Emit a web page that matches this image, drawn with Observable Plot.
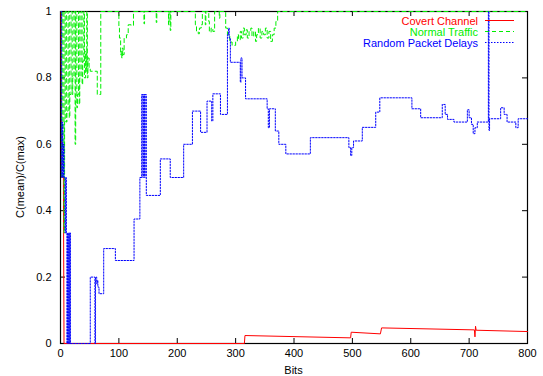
<!DOCTYPE html>
<html>
<head>
<meta charset="utf-8">
<script src="https://cdn.jsdelivr.net/npm/d3@7"></script>
<script src="https://cdn.jsdelivr.net/npm/@observablehq/plot@0.6"></script>
<style>
  html, body { margin: 0; padding: 0; background: white; }
</style>
</head>
<body>
<div id="chart"></div>
<script>
// ---- data ----
const xTicks = [0, 100, 200, 300, 400, 500, 600, 700, 800];
const yTicks = [0, 0.2, 0.4, 0.6, 0.8, 1];
const seriesNames = ["Covert Channel", "Normal Traffic", "Random Packet Delays"];

const redBits   = [1, 2, 5, 6, 315, 316, 497, 498, 548, 550, 709, 710, 711, 712, 800];
const redValues = [1, 0.5, 0.5, 0, 0, 0.024, 0.017, 0.034, 0.029, 0.047, 0.041, 0.02, 0.052, 0.04, 0.036];

const greenBits = [1,2,4,6,7,8,10,11,13,15,16,18,20,21,23,25,26,28,29,31,32,33,35,37,38,40,41,43,44,45,46,47,49,51,63,69,
  100,101,103,104,105,106,107,109,113,116,121,125,
  143,144,164,165,185,186,188,189,231,233,236,238,241,243,248,249,254,255,258,261,264,272,273,
  283,286,290,294,300,303,305,308,310,313,315,318,320,323,326,328,331,334,336,339,342,345,348,351,354,357,360,363,366,369,372,800];
const greenValues = [1,0.5,1,0.333,0.667,1,0.667,0.7,1,0.68,0.75,1,0.75,0.8,1,0.6,1,0.71,0.75,1,0.72,0.8,1,0.78,0.85,1,0.8,0.88,0.82,1,0.8,0.86,0.83,0.82,0.75,1,
  0.95,0.92,0.87,0.88,0.86,0.89,0.87,0.92,0.93,0.96,0.958,1,
  0.963,1,0.967,1,0.96,1,0.943,1,0.96,0.94,0.933,0.95,0.96,1,0.96,1,0.97,0.938,0.95,0.94,1,0.98,1,
  0.95,0.93,0.908,0.898,0.91,0.93,0.915,0.94,0.92,0.95,0.93,0.945,0.92,0.94,0.95,0.925,0.94,0.91,0.93,0.95,0.92,0.94,0.93,0.95,0.92,0.94,0.91,0.93,0.95,0.97,1,1];

const blueBits = [1,2,3,4,5,6,8,9,10,11,12,13,14,15,16,17,51,59,60,62,63,64,66,74,94,126,136,139,141,142,144,145,147,
  171,188,211,226,240,251,259,261,274,286,288,289,291,308,309,311,317,354,356,358,368,374,386,428,494,497,499,502,517,540,547,
  602,617,654,659,663,674,697,700,704,707,710,714,733,734,735,754,760,765,780,784,800];
const blueValues = [1,0.5,0.667,0.5,0.6,0.5,0.333,0.5,0.333,0,0.333,0,0.333,0,0.333,0,0.2,0,0.2,0.18,0.19,0.17,0.15,0.286,0.25,0.375,0.5,0.75,0.5,0.75,0.5,0.75,0.446,
  0.556,0.5,0.6,0.7,0.636,0.73,0.67,0.752,0.69,0.93,0.95,0.92,0.847,0.787,0.86,0.8,0.737,0.707,0.65,0.707,0.64,0.6,0.571,0.62,0.59,0.566,0.59,0.61,0.651,0.697,0.74,
  0.707,0.68,0.72,0.69,0.675,0.667,0.704,0.68,0.66,0.632,0.65,0.667,1,0.642,0.677,0.71,0.69,0.667,0.65,0.677,0.677];

const colors = ["#ff0000", "#00ee00", "#0000ff"];

// ---- build tables ----
const red = redBits.map((b, i) => ({bits: b, v: redValues[i]}));
const green = greenBits.map((b, i) => ({bits: b, v: greenValues[i]}));
const blue = blueBits.map((b, i) => ({bits: b, v: blueValues[i]}));

const W = 543, H = 376;
const mL = 60, mR = 16, mT = 11, mB = 33;
const fw = W - mL - mR, fh = H - mT - mB;
const tick = 5;

const svg = Plot.plot({
  width: W, height: H,
  marginLeft: mL, marginRight: mR, marginTop: mT, marginBottom: mB,
  x: {domain: [0, 800]},
  y: {domain: [0, 1]},
  style: {fontFamily: "'Liberation Sans', Arial, sans-serif", fontSize: "11px", color: "black", background: "white", overflow: "visible"},
  marks: [
    Plot.axisX({ticks: xTicks, tickSize: 0, tickPadding: 6, label: null, tickFormat: d => String(d)}),
    Plot.axisY({ticks: yTicks, tickSize: 0, tickPadding: 9, label: null, tickFormat: d => String(d)}),
    Plot.tickX(xTicks, {x: d => d, insetTop: fh - tick, stroke: "black"}),
    Plot.tickX(xTicks, {x: d => d, insetBottom: fh - tick, stroke: "black"}),
    Plot.tickY(yTicks, {y: d => d, insetRight: fw - tick, stroke: "black"}),
    Plot.tickY(yTicks, {y: d => d, insetLeft: fw - tick, stroke: "black"}),
    Plot.frame({stroke: "black", strokeWidth: 1.2}),
    Plot.line(red, {x: "bits", y: "v", stroke: colors[0], strokeWidth: 1}),
    Plot.line(green, {x: "bits", y: "v", stroke: colors[1], strokeWidth: 1, curve: "step-after", strokeDasharray: "4,3"}),
    Plot.line(blue, {x: "bits", y: "v", stroke: colors[2], strokeWidth: 1, curve: "step-after", strokeDasharray: "1.5,1.5"})
  ]
});

// axis titles and key
const s = d3.select(svg);
s.append("text")
  .attr("transform", `translate(20,${mT + fh / 2}) rotate(-90)`)
  .attr("text-anchor", "middle").attr("dominant-baseline", "central")
  .attr("fill", "black").text("C(mean)/C(max)");
s.append("text")
  .attr("x", mL + fw / 2).attr("y", 370)
  .attr("text-anchor", "middle").attr("dominant-baseline", "central")
  .attr("fill", "black").text("Bits");

const dashes = [null, "4,3", "1.5,1.5"];
seriesNames.forEach((name, i) => {
  const yy = 20.5 + i * 11;
  s.append("text")
    .attr("x", 478).attr("y", yy)
    .attr("text-anchor", "end").attr("dominant-baseline", "central")
    .attr("fill", colors[i]).text(name);
  s.append("line")
    .attr("x1", 485).attr("x2", 514).attr("y1", yy).attr("y2", yy)
    .attr("stroke", colors[i]).attr("stroke-width", 1)
    .attr("stroke-dasharray", dashes[i]);
});

document.getElementById("chart").appendChild(svg);
</script>
</body>
</html>
